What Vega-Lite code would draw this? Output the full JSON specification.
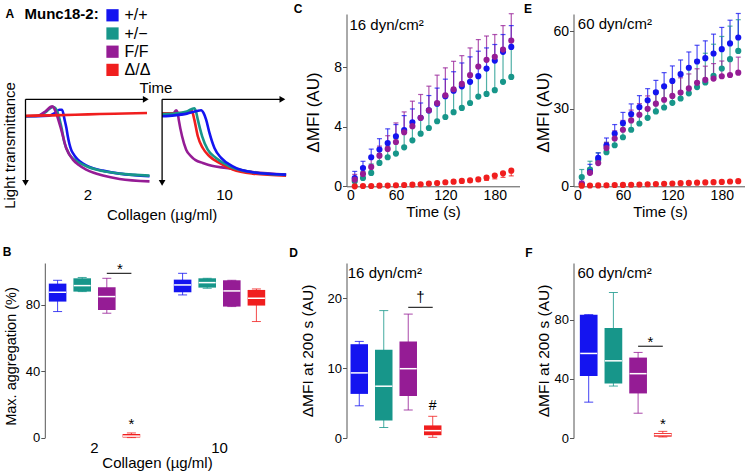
{
"$schema":"https://vega.github.io/schema/vega-lite/v6.json",
"background":"white",
"padding":{"left":2.5,"top":2,"right":0,"bottom":0},
"config":{
 "font":"Liberation Sans",
 "view":{"stroke":null},
 "axis":{"domainColor":"#555555","tickColor":"#555555","labelColor":"black","titleColor":"black","labelFontSize":13,"titleFontSize":15,"titleFontWeight":"normal","grid":false,"tickSize":4,"labelPadding":1,"minExtent":0,"labelFont":"Liberation Sans","titleFont":"Liberation Sans"},
 "title":{"fontSize":12,"fontWeight":"bold","anchor":"start","frame":"bounds","color":"black","font":"Liberation Sans"},
 "text":{"font":"Liberation Sans","color":"black"},
 "legend":{"labelFont":"Liberation Sans","titleFont":"Liberation Sans"}
},
"datasets":{
"A":[
{"c":"2","g":"+/+","t":0,"v":19.5},{"c":"2","g":"+/+","t":10,"v":19.5},{"c":"2","g":"+/+","t":19,"v":19},{"c":"2","g":"+/+","t":24,"v":15.5},{"c":"2","g":"+/+","t":27.4,"v":12},{"c":"2","g":"+/+","t":29.5,"v":12},{"c":"2","g":"+/+","t":31.5,"v":23.4},{"c":"2","g":"+/+","t":33,"v":33},{"c":"2","g":"+/+","t":34.1,"v":42.5},{"c":"2","g":"+/+","t":36.8,"v":57.9},{"c":"2","g":"+/+","t":38.5,"v":62.5},{"c":"2","g":"+/+","t":40.9,"v":67.4},{"c":"2","g":"+/+","t":44,"v":71.5},{"c":"2","g":"+/+","t":48.9,"v":75.9},{"c":"2","g":"+/+","t":55,"v":79.5},{"c":"2","g":"+/+","t":62.4,"v":82},{"c":"2","g":"+/+","t":75.8,"v":85.4},{"c":"2","g":"+/+","t":88,"v":87.2},{"c":"2","g":"+/+","t":100,"v":88.5},
{"c":"2","g":"+/−","t":0,"v":19.5},{"c":"2","g":"+/−","t":10,"v":19},{"c":"2","g":"+/−","t":16,"v":15},{"c":"2","g":"+/−","t":22,"v":8.8},{"c":"2","g":"+/−","t":24,"v":10},{"c":"2","g":"+/−","t":26,"v":15.7},{"c":"2","g":"+/−","t":28.8,"v":31},{"c":"2","g":"+/−","t":31.5,"v":50.2},{"c":"2","g":"+/−","t":35.5,"v":63.6},{"c":"2","g":"+/−","t":39,"v":69},{"c":"2","g":"+/−","t":43.5,"v":73.2},{"c":"2","g":"+/−","t":50,"v":77.5},{"c":"2","g":"+/−","t":57,"v":80.8},{"c":"2","g":"+/−","t":75.8,"v":85.4},{"c":"2","g":"+/−","t":100,"v":87.7},
{"c":"2","g":"F/F","t":0,"v":19.5},{"c":"2","g":"F/F","t":10,"v":19},{"c":"2","g":"F/F","t":16,"v":14},{"c":"2","g":"F/F","t":21.5,"v":8.1},{"c":"2","g":"F/F","t":23,"v":10},{"c":"2","g":"F/F","t":24.7,"v":15.7},{"c":"2","g":"F/F","t":28.8,"v":34.9},{"c":"2","g":"F/F","t":32.8,"v":56},{"c":"2","g":"F/F","t":38.2,"v":69.3},{"c":"2","g":"F/F","t":43,"v":75.5},{"c":"2","g":"F/F","t":48.9,"v":80.8},{"c":"2","g":"F/F","t":55,"v":84.5},{"c":"2","g":"F/F","t":62.4,"v":87.7},{"c":"2","g":"F/F","t":75.8,"v":91.6},{"c":"2","g":"F/F","t":100,"v":94.3},
{"c":"2","g":"Δ/Δ","t":0,"v":19},{"c":"2","g":"Δ/Δ","t":20,"v":18.5},{"c":"2","g":"Δ/Δ","t":40,"v":17.8},{"c":"2","g":"Δ/Δ","t":60,"v":17},{"c":"2","g":"Δ/Δ","t":80,"v":16.3},{"c":"2","g":"Δ/Δ","t":98,"v":15.7},
{"c":"10","g":"F/F","t":0,"v":19},{"c":"10","g":"F/F","t":5,"v":18.8},{"c":"10","g":"F/F","t":9,"v":17},{"c":"10","g":"F/F","t":11.3,"v":12.6},{"c":"10","g":"F/F","t":12.5,"v":15},{"c":"10","g":"F/F","t":13.4,"v":23.4},{"c":"10","g":"F/F","t":16.1,"v":42.5},{"c":"10","g":"F/F","t":19.4,"v":57.9},{"c":"10","g":"F/F","t":23.4,"v":65.5},{"c":"10","g":"F/F","t":27,"v":70},{"c":"10","g":"F/F","t":32.8,"v":73.2},{"c":"10","g":"F/F","t":40,"v":76.5},{"c":"10","g":"F/F","t":51.6,"v":78.9},{"c":"10","g":"F/F","t":73.1,"v":83.5},{"c":"10","g":"F/F","t":100,"v":86.6},
{"c":"10","g":"Δ/Δ","t":0,"v":16},{"c":"10","g":"Δ/Δ","t":10,"v":16},{"c":"10","g":"Δ/Δ","t":20,"v":15.5},{"c":"10","g":"Δ/Δ","t":23.4,"v":12.6},{"c":"10","g":"Δ/Δ","t":24.5,"v":15},{"c":"10","g":"Δ/Δ","t":26,"v":23.4},{"c":"10","g":"Δ/Δ","t":28.8,"v":42.5},{"c":"10","g":"Δ/Δ","t":32.8,"v":56},{"c":"10","g":"Δ/Δ","t":38.2,"v":65.5},{"c":"10","g":"Δ/Δ","t":46.2,"v":73.2},{"c":"10","g":"Δ/Δ","t":57,"v":80.8},{"c":"10","g":"Δ/Δ","t":73.1,"v":85.4},{"c":"10","g":"Δ/Δ","t":100,"v":87.7},
{"c":"10","g":"+/−","t":0,"v":17},{"c":"10","g":"+/−","t":10,"v":16.5},{"c":"10","g":"+/−","t":20,"v":14},{"c":"10","g":"+/−","t":26,"v":10.3},{"c":"10","g":"+/−","t":27.5,"v":15},{"c":"10","g":"+/−","t":28.8,"v":23.4},{"c":"10","g":"+/−","t":32.3,"v":42.5},{"c":"10","g":"+/−","t":36.8,"v":57.9},{"c":"10","g":"+/−","t":43.5,"v":67.4},{"c":"10","g":"+/−","t":54.3,"v":77},{"c":"10","g":"+/−","t":73.1,"v":83.9},{"c":"10","g":"+/−","t":100,"v":86.9},
{"c":"10","g":"+/+","t":0,"v":19.5},{"c":"10","g":"+/+","t":10,"v":18.5},{"c":"10","g":"+/+","t":20,"v":16.5},{"c":"10","g":"+/+","t":28,"v":13.5},{"c":"10","g":"+/+","t":31.5,"v":12.6},{"c":"10","g":"+/+","t":33.5,"v":16},{"c":"10","g":"+/+","t":35.5,"v":23.4},{"c":"10","g":"+/+","t":38.2,"v":38.7},{"c":"10","g":"+/+","t":42.2,"v":56},{"c":"10","g":"+/+","t":47.6,"v":67.4},{"c":"10","g":"+/+","t":57,"v":77},{"c":"10","g":"+/+","t":73.1,"v":83.9},{"c":"10","g":"+/+","t":100,"v":86.6}
],
"C":[
{"g":"+/−","t":10,"m":0.34,"e":0.6},{"g":"+/−","t":20,"m":0.56,"e":1.0},{"g":"+/−","t":30,"m":0.9,"e":1.5},{"g":"+/−","t":40,"m":1.57,"e":2.2},{"g":"+/−","t":50,"m":1.95,"e":2.7},{"g":"+/−","t":60,"m":2.2,"e":3.2},{"g":"+/−","t":70,"m":2.62,"e":3.7},{"g":"+/−","t":80,"m":3.09,"e":4.2},{"g":"+/−","t":90,"m":3.54,"e":4.6},{"g":"+/−","t":100,"m":3.92,"e":5.0},{"g":"+/−","t":110,"m":4.37,"e":5.5},{"g":"+/−","t":120,"m":4.66,"e":6.0},{"g":"+/−","t":130,"m":4.98,"e":6.4},{"g":"+/−","t":140,"m":5.27,"e":6.8},{"g":"+/−","t":150,"m":5.6,"e":7.1},{"g":"+/−","t":160,"m":6.03,"e":7.5},{"g":"+/−","t":170,"m":6.21,"e":7.9},{"g":"+/−","t":180,"m":6.46,"e":8.4},{"g":"+/−","t":190,"m":7.02,"e":9.0},{"g":"+/−","t":200,"m":7.35,"e":9.4},
{"g":"+/+","t":10,"m":0.56,"e":1.0},{"g":"+/+","t":20,"m":1.23,"e":1.68},{"g":"+/+","t":30,"m":1.95,"e":2.5},{"g":"+/+","t":40,"m":2.47,"e":3.2},{"g":"+/+","t":50,"m":2.91,"e":3.86},{"g":"+/+","t":60,"m":3.36,"e":4.15},{"g":"+/+","t":70,"m":3.77,"e":4.75},{"g":"+/+","t":80,"m":4.3,"e":5.2},{"g":"+/+","t":90,"m":4.6,"e":5.6},{"g":"+/+","t":100,"m":5.1,"e":6.1},{"g":"+/+","t":110,"m":5.55,"e":6.6},{"g":"+/+","t":120,"m":6.05,"e":7.2},{"g":"+/+","t":130,"m":6.43,"e":7.7},{"g":"+/+","t":140,"m":6.72,"e":8.29},{"g":"+/+","t":150,"m":7.02,"e":8.7},{"g":"+/+","t":160,"m":7.4,"e":9.08},{"g":"+/+","t":170,"m":7.91,"e":9.3},{"g":"+/+","t":180,"m":8.45,"e":9.53},{"g":"+/+","t":190,"m":9.04,"e":10.2},{"g":"+/+","t":200,"m":9.37,"e":10.8},
{"g":"F/F","t":10,"m":0.45,"e":0.8},{"g":"F/F","t":20,"m":0.83,"e":1.3},{"g":"F/F","t":30,"m":1.3,"e":1.9},{"g":"F/F","t":40,"m":2.06,"e":2.7},{"g":"F/F","t":50,"m":2.51,"e":3.4},{"g":"F/F","t":60,"m":2.98,"e":4.26},{"g":"F/F","t":70,"m":3.63,"e":5.0},{"g":"F/F","t":80,"m":4.04,"e":5.72},{"g":"F/F","t":90,"m":4.6,"e":6.17},{"g":"F/F","t":100,"m":5.11,"e":6.73},{"g":"F/F","t":110,"m":5.6,"e":7.47},{"g":"F/F","t":120,"m":6.12,"e":7.96},{"g":"F/F","t":130,"m":6.52,"e":8.4},{"g":"F/F","t":140,"m":6.88,"e":8.78},{"g":"F/F","t":150,"m":7.47,"e":9.3},{"g":"F/F","t":160,"m":8.05,"e":9.86},{"g":"F/F","t":170,"m":8.5,"e":10.1},{"g":"F/F","t":180,"m":8.7,"e":10.2},{"g":"F/F","t":190,"m":9.19,"e":10.8},{"g":"F/F","t":200,"m":9.8,"e":11.6},
{"g":"Δ/Δ","t":10,"m":0.0,"e":0.0},{"g":"Δ/Δ","t":20,"m":0.02,"e":0.0},{"g":"Δ/Δ","t":30,"m":0.02,"e":0.0},{"g":"Δ/Δ","t":40,"m":0.04,"e":0.02},{"g":"Δ/Δ","t":50,"m":0.05,"e":0.02},{"g":"Δ/Δ","t":60,"m":0.07,"e":0.04},{"g":"Δ/Δ","t":70,"m":0.09,"e":0.05},{"g":"Δ/Δ","t":80,"m":0.11,"e":0.06},{"g":"Δ/Δ","t":90,"m":0.14,"e":0.08},{"g":"Δ/Δ","t":100,"m":0.18,"e":0.11},{"g":"Δ/Δ","t":110,"m":0.22,"e":0.14},{"g":"Δ/Δ","t":120,"m":0.27,"e":0.17},{"g":"Δ/Δ","t":130,"m":0.31,"e":0.2},{"g":"Δ/Δ","t":140,"m":0.36,"e":0.24},{"g":"Δ/Δ","t":150,"m":0.4,"e":0.27},{"g":"Δ/Δ","t":160,"m":0.47,"e":0.32},{"g":"Δ/Δ","t":170,"m":0.58,"e":0.4},{"g":"Δ/Δ","t":180,"m":0.72,"e":0.5},{"g":"Δ/Δ","t":190,"m":0.87,"e":0.6},{"g":"Δ/Δ","t":200,"m":1.05,"e":0.7}
],
"E":[
{"g":"+/−","t":10,"m":3.6,"e":6.5},{"g":"+/−","t":20,"m":6.5,"e":9.7},{"g":"+/−","t":30,"m":10.3,"e":13},{"g":"+/−","t":40,"m":13.2,"e":17},{"g":"+/−","t":50,"m":15.9,"e":20},{"g":"+/−","t":60,"m":19,"e":23.5},{"g":"+/−","t":70,"m":21.9,"e":27},{"g":"+/−","t":80,"m":24.3,"e":30},{"g":"+/−","t":90,"m":26.5,"e":33},{"g":"+/−","t":100,"m":29,"e":36},{"g":"+/−","t":110,"m":30.5,"e":38},{"g":"+/−","t":120,"m":32.3,"e":40.5},{"g":"+/−","t":130,"m":34,"e":43},{"g":"+/−","t":140,"m":36,"e":46},{"g":"+/−","t":150,"m":38.4,"e":49},{"g":"+/−","t":160,"m":40.2,"e":51.5},{"g":"+/−","t":170,"m":42.8,"e":55},{"g":"+/−","t":180,"m":45.6,"e":58},{"g":"+/−","t":190,"m":49.2,"e":62},{"g":"+/−","t":200,"m":52.4,"e":64.5},
{"g":"+/+","t":10,"m":1.0,"e":3},{"g":"+/+","t":20,"m":5.5,"e":8.5},{"g":"+/+","t":30,"m":11,"e":12.9},{"g":"+/+","t":40,"m":15.9,"e":18.7},{"g":"+/+","t":50,"m":20.4,"e":23.9},{"g":"+/+","t":60,"m":24.5,"e":28.6},{"g":"+/+","t":70,"m":28,"e":31.9},{"g":"+/+","t":80,"m":30.7,"e":35.1},{"g":"+/+","t":90,"m":33.3,"e":37.8},{"g":"+/+","t":100,"m":36.4,"e":41},{"g":"+/+","t":110,"m":38.7,"e":44},{"g":"+/+","t":120,"m":40.8,"e":46.6},{"g":"+/+","t":130,"m":43.4,"e":48.9},{"g":"+/+","t":140,"m":45.9,"e":52},{"g":"+/+","t":150,"m":48.3,"e":54.6},{"g":"+/+","t":160,"m":49.6,"e":56.3},{"g":"+/+","t":170,"m":51.4,"e":58.9},{"g":"+/+","t":180,"m":53.1,"e":61.5},{"g":"+/+","t":190,"m":55.3,"e":64.3},{"g":"+/+","t":200,"m":57.6,"e":66.9},
{"g":"F/F","t":10,"m":1.0,"e":2},{"g":"F/F","t":20,"m":5.2,"e":7},{"g":"F/F","t":30,"m":9.0,"e":11},{"g":"F/F","t":40,"m":14.8,"e":17},{"g":"F/F","t":50,"m":18.5,"e":21.5},{"g":"F/F","t":60,"m":21.9,"e":25.5},{"g":"F/F","t":70,"m":25.5,"e":29.5},{"g":"F/F","t":80,"m":27.7,"e":32},{"g":"F/F","t":90,"m":30,"e":35},{"g":"F/F","t":100,"m":32,"e":37},{"g":"F/F","t":110,"m":33.5,"e":39},{"g":"F/F","t":120,"m":35,"e":40.5},{"g":"F/F","t":130,"m":36.3,"e":42},{"g":"F/F","t":140,"m":37.9,"e":43.5},{"g":"F/F","t":150,"m":40.1,"e":45.5},{"g":"F/F","t":160,"m":41.2,"e":46.5},{"g":"F/F","t":170,"m":41.7,"e":47.5},{"g":"F/F","t":180,"m":42.6,"e":48.5},{"g":"F/F","t":190,"m":43.1,"e":49.5},{"g":"F/F","t":200,"m":44,"e":50},
{"g":"Δ/Δ","t":10,"m":0.25,"e":0.2},{"g":"Δ/Δ","t":20,"m":0.3,"e":0.25},{"g":"Δ/Δ","t":30,"m":0.35,"e":0.3},{"g":"Δ/Δ","t":40,"m":0.4,"e":0.3},{"g":"Δ/Δ","t":50,"m":0.5,"e":0.4},{"g":"Δ/Δ","t":60,"m":0.55,"e":0.45},{"g":"Δ/Δ","t":70,"m":0.6,"e":0.5},{"g":"Δ/Δ","t":80,"m":0.7,"e":0.55},{"g":"Δ/Δ","t":90,"m":0.8,"e":0.6},{"g":"Δ/Δ","t":100,"m":0.9,"e":0.7},{"g":"Δ/Δ","t":110,"m":1.0,"e":0.8},{"g":"Δ/Δ","t":120,"m":1.1,"e":0.85},{"g":"Δ/Δ","t":130,"m":1.2,"e":0.95},{"g":"Δ/Δ","t":140,"m":1.3,"e":1.0},{"g":"Δ/Δ","t":150,"m":1.4,"e":1.1},{"g":"Δ/Δ","t":160,"m":1.5,"e":1.2},{"g":"Δ/Δ","t":170,"m":1.6,"e":1.25},{"g":"Δ/Δ","t":180,"m":1.7,"e":1.3},{"g":"Δ/Δ","t":190,"m":1.85,"e":1.4},{"g":"Δ/Δ","t":200,"m":2.0,"e":1.5}
],
"B":[
{"c":"2","g":"+/+","min":75.8,"q1":81.8,"med":87.4,"q3":92.6,"max":94.6},
{"c":"2","g":"+/−","min":87.8,"q1":87.8,"med":91.4,"q3":95.8,"max":96.3},
{"c":"2","g":"F/F","min":74.8,"q1":76.8,"med":84.8,"q3":90.4,"max":95.8},
{"c":"2","g":"Δ/Δ","min":0,"q1":0,"med":0.9,"q3":2.2,"max":2.8},
{"c":"10","g":"+/+","min":85.8,"q1":87.4,"med":91.8,"q3":95,"max":98.8},
{"c":"10","g":"+/−","min":89.8,"q1":90.2,"med":93.2,"q3":95.8,"max":95.8},
{"c":"10","g":"F/F","min":78.8,"q1":78.8,"med":88.2,"q3":94.6,"max":94.6},
{"c":"10","g":"Δ/Δ","min":69.8,"q1":79.4,"med":83.8,"q3":88.8,"max":89.4}
],
"D":[
{"g":"+/+","min":4.6,"q1":6.3,"med":9.3,"q3":13.4,"max":13.8},
{"g":"+/−","min":1.5,"q1":2.5,"med":7.4,"q3":12.6,"max":18.2},
{"g":"F/F","min":4.0,"q1":6.0,"med":9.9,"q3":13.8,"max":17.7},
{"g":"Δ/Δ","min":0.1,"q1":0.4,"med":1.05,"q3":1.8,"max":3.1}
],
"F":[
{"g":"+/+","min":24.3,"q1":42,"med":57.3,"q3":83.6,"max":83.6},
{"g":"+/−","min":35.2,"q1":37,"med":52.3,"q3":74.5,"max":98.6},
{"g":"F/F","min":16.8,"q1":30.2,"med":43.6,"q3":54.5,"max":58},
{"g":"Δ/Δ","min":0.7,"q1":0.9,"med":2.3,"q3":3.4,"max":4.5}
]
},
"columns":3,
"align":"each",
"spacing":{"row":21,"column":-3},
"resolve":{"scale":{"color":"independent"}},
"concat":[
{
 "hconcat":[
  {
   "width":124,"height":172.3,
   "layer":[
    {"data":{"name":"A"},"transform":[{"filter":"datum.c == '2'"}],
     "mark":{"type":"line","strokeWidth":2.6,"interpolate":"monotone"},
     "encoding":{
      "x":{"field":"t","type":"quantitative","title":"2","scale":{"domain":[0,100],"nice":false,"zero":false},"axis":{"orient":"bottom","domain":false,"ticks":false,"labels":false,"titleFontSize":15,"titlePadding":1}},
      "y":{"field":"v","type":"quantitative","title":"Light transmittance","scale":{"domain":[-98,100],"reverse":true,"nice":false,"zero":false},"axis":{"domain":false,"ticks":false,"labels":false,"titleFontSize":15,"titlePadding":7.7,"titleY":131}},
      "color":{"field":"g","type":"nominal","scale":{"domain":["+/+","+/−","F/F","Δ/Δ"],"range":["#1414F0","#17968A","#951C95","#F01E1E"]},
        "legend":{"orient":"none","legendX":-1,"legendY":-6.7,"title":"Munc18-2:","titleOrient":"left","titleAnchor":"start","titleBaseline":"top","titleFontSize":15,"titleFontWeight":"bold","titleColor":"black","titlePadding":5,"labelFontSize":16,"labelColor":"black","symbolType":"square","symbolSize":150,"symbolStrokeWidth":0,"symbolOpacity":1,"rowPadding":2.2,"labelOffset":4,
          "encode":{"symbols":{"update":{"fill":{"signal":"datum.value === '+/+' ? '#1414F0' : datum.value === '+/−' ? '#17968A' : datum.value === 'F/F' ? '#951C95' : '#F01E1E'"},"fillOpacity":{"value":1},"strokeWidth":{"value":0}}}}}}
     }},
    {"data":{"values":[{"t":0,"t2":98,"v":0,"v2":0},{"t":0,"t2":0,"v":0,"v2":97}]},
     "mark":{"type":"rule","color":"black","strokeWidth":1.3},
     "encoding":{"x":{"field":"t","type":"quantitative","title":"2"},"x2":{"field":"t2"},"y":{"field":"v","type":"quantitative","title":"Light transmittance"},"y2":{"field":"v2"}}},
    {"data":{"values":[{"t":97,"v":0,"s":"triangle-right"},{"t":0,"v":96,"s":"triangle-down"}]},
     "mark":{"type":"point","filled":true,"color":"black","size":45,"opacity":1},
     "encoding":{"x":{"field":"t","type":"quantitative","title":"2"},"y":{"field":"v","type":"quantitative","title":"Light transmittance"},"shape":{"field":"s","type":"nominal","scale":null}}},
    {"data":{"values":[{"t":92,"v":-13,"s":"Time"}]},
     "mark":{"type":"text","align":"left","baseline":"middle","fontSize":15},
     "encoding":{"x":{"field":"t","type":"quantitative","title":"2"},"y":{"field":"v","type":"quantitative","title":"Light transmittance"},"text":{"field":"s"}}},
    {"data":{"values":[{"t":-16.1,"v":-93.4,"s":"A"}]},
     "mark":{"type":"text","align":"left","baseline":"alphabetic","fontSize":12,"fontWeight":"bold"},
     "encoding":{"x":{"field":"t","type":"quantitative","title":"2"},"y":{"field":"v","type":"quantitative","title":"Light transmittance"},"text":{"field":"s"}}}
   ]
  },
  {
   "width":124,"height":172.3,
   "layer":[
    {"data":{"name":"A"},"transform":[{"filter":"datum.c == '10'"}],
     "mark":{"type":"line","strokeWidth":2.6,"interpolate":"monotone"},
     "encoding":{
      "x":{"field":"t","type":"quantitative","title":"10","scale":{"domain":[0,100],"nice":false,"zero":false},"axis":{"orient":"bottom","domain":false,"ticks":false,"labels":false,"titleFontSize":15,"titlePadding":1}},
      "y":{"field":"v","type":"quantitative","scale":{"domain":[-98,100],"reverse":true,"nice":false,"zero":false},"axis":null},
      "color":{"field":"g","type":"nominal","scale":{"domain":["+/+","+/−","F/F","Δ/Δ"],"range":["#1414F0","#17968A","#951C95","#F01E1E"]},"legend":null}
     }},
    {"data":{"values":[{"t":0,"t2":98,"v":0,"v2":0},{"t":0,"t2":0,"v":0,"v2":97}]},
     "mark":{"type":"rule","color":"black","strokeWidth":1.3},
     "encoding":{"x":{"field":"t","type":"quantitative","title":"10"},"x2":{"field":"t2"},"y":{"field":"v","type":"quantitative"},"y2":{"field":"v2"}}},
    {"data":{"values":[{"t":97,"v":0,"s":"triangle-right"},{"t":0,"v":96,"s":"triangle-down"}]},
     "mark":{"type":"point","filled":true,"color":"black","size":45,"opacity":1},
     "encoding":{"x":{"field":"t","type":"quantitative","title":"10"},"y":{"field":"v","type":"quantitative"},"shape":{"field":"s","type":"nominal","scale":null}}}
   ]
  }
 ],
 "spacing":12.6,
 "bounds":"flush",
 "resolve":{"scale":{"color":"independent"}},
 "title":{"text":"Collagen (µg/ml)","orient":"bottom","anchor":"middle","frame":"bounds","dx":15,"fontSize":15,"fontWeight":"normal","offset":0}
},
{
 "width":173,"height":172.3,
 "title":{"text":"C","dx":-11,"offset":-3},
 "data":{"name":"C"},
 "encoding":{"x":{"field":"t","type":"quantitative","title":"Time (s)","scale":{"domain":[0,210],"nice":false},"axis":{"values":[0,60,120,180],"ticks":false,"labelPadding":2,"titlePadding":2,"labelFontSize":14}}},
 "layer":[
  {"mark":{"type":"rule","strokeWidth":1.2,"opacity":0.75},
   "encoding":{"y":{"field":"m","type":"quantitative","title":"ΔMFI (AU)","scale":{"domain":[0,11.58],"nice":false},"axis":{"values":[0,4,8],"labelFontSize":14,"titleFontSize":17,"titlePadding":11,"titleY":98}},"y2":{"field":"e"},
    "color":{"field":"g","type":"nominal","scale":{"domain":["+/+","+/−","F/F","Δ/Δ"],"range":["#1414F0","#17968A","#951C95","#F01E1E"]},"legend":null}}},
  {"mark":{"type":"tick","orient":"horizontal","size":5,"thickness":1.2,"opacity":0.75},
   "encoding":{"y":{"field":"e","type":"quantitative","title":"ΔMFI (AU)"},
    "color":{"field":"g","type":"nominal","scale":{"domain":["+/+","+/−","F/F","Δ/Δ"],"range":["#1414F0","#17968A","#951C95","#F01E1E"]},"legend":null}}},
  {"mark":{"type":"point","filled":true,"size":38,"opacity":1},
   "encoding":{"y":{"field":"m","type":"quantitative","title":"ΔMFI (AU)"},
    "color":{"field":"g","type":"nominal","scale":{"domain":["+/+","+/−","F/F","Δ/Δ"],"range":["#1414F0","#17968A","#951C95","#F01E1E"]},"legend":null}}},
  {"data":{"values":[{"t":3.6,"m":10.53,"s":"16 dyn/cm²"}]},
   "mark":{"type":"text","align":"left","baseline":"alphabetic","fontSize":15},
   "encoding":{"y":{"field":"m","type":"quantitative","title":"ΔMFI (AU)"},"text":{"field":"s"}}}
 ]
},
{
 "width":173,"height":172.3,
 "title":{"text":"E","dx":-11,"offset":-3},
 "data":{"name":"E"},
 "encoding":{"x":{"field":"t","type":"quantitative","title":"Time (s)","scale":{"domain":[0,210],"nice":false},"axis":{"values":[0,60,120,180],"ticks":false,"labelPadding":2,"titlePadding":2,"labelFontSize":14}}},
 "layer":[
  {"mark":{"type":"rule","strokeWidth":1.2,"opacity":0.75},
   "encoding":{"y":{"field":"m","type":"quantitative","title":"ΔMFI (AU)","scale":{"domain":[0,66.7],"nice":false},"axis":{"values":[0,30,60],"labelFontSize":14,"titleFontSize":17,"titlePadding":0,"titleY":98}},"y2":{"field":"e"},
    "color":{"field":"g","type":"nominal","scale":{"domain":["+/+","+/−","F/F","Δ/Δ"],"range":["#1414F0","#17968A","#951C95","#F01E1E"]},"legend":null}}},
  {"mark":{"type":"tick","orient":"horizontal","size":5,"thickness":1.2,"opacity":0.75},
   "encoding":{"y":{"field":"e","type":"quantitative","title":"ΔMFI (AU)"},
    "color":{"field":"g","type":"nominal","scale":{"domain":["+/+","+/−","F/F","Δ/Δ"],"range":["#1414F0","#17968A","#951C95","#F01E1E"]},"legend":null}}},
  {"mark":{"type":"point","filled":true,"size":38,"opacity":1},
   "encoding":{"y":{"field":"m","type":"quantitative","title":"ΔMFI (AU)"},
    "color":{"field":"g","type":"nominal","scale":{"domain":["+/+","+/−","F/F","Δ/Δ"],"range":["#1414F0","#17968A","#951C95","#F01E1E"]},"legend":null}}},
  {"data":{"values":[{"t":5.2,"m":60.7,"s":"60 dyn/cm²"}]},
   "mark":{"type":"text","align":"left","baseline":"alphabetic","fontSize":15},
   "encoding":{"y":{"field":"m","type":"quantitative","title":"ΔMFI (AU)"},"text":{"field":"s"}}}
 ]
},
{
 "width":263,"height":174.6,
 "title":{"text":"B","dx":-1,"offset":3},
 "data":{"name":"B"},
 "encoding":{
  "x":{"field":"c","type":"nominal","title":"Collagen (µg/ml)","sort":["2","10"],"scale":{"domain":["2","10"],"paddingInner":0.2,"paddingOuter":0.152},"axis":{"domain":false,"ticks":false,"labelAngle":0,"labelPadding":3,"labelFontSize":15,"titlePadding":0}},
  "xOffset":{"field":"g","type":"nominal","scale":{"domain":["+/+","+/−","F/F","Δ/Δ"],"paddingInner":0.285,"paddingOuter":0.175}}
 },
 "layer":[
  {"mark":{"type":"rule","strokeWidth":1,"opacity":0.8},
   "encoding":{"y":{"field":"min","type":"quantitative","title":"Max. aggregation (%)","scale":{"domain":[0,105],"nice":false},"axis":{"values":[0,40,80],"offset":-19.3,"titleFontSize":14.5,"titlePadding":6.5,"titleY":93}},"y2":{"field":"max"},
    "color":{"field":"g","type":"nominal","scale":{"domain":["+/+","+/−","F/F","Δ/Δ"],"range":["#1414F0","#17968A","#951C95","#F01E1E"]},"legend":null}}},
  {"mark":{"type":"tick","size":9,"thickness":1,"opacity":0.8},
   "encoding":{"y":{"field":"min","type":"quantitative","title":"Max. aggregation (%)"},
    "color":{"field":"g","type":"nominal","scale":{"domain":["+/+","+/−","F/F","Δ/Δ"],"range":["#1414F0","#17968A","#951C95","#F01E1E"]},"legend":null}}},
  {"mark":{"type":"tick","size":9,"thickness":1,"opacity":0.8},
   "encoding":{"y":{"field":"max","type":"quantitative","title":"Max. aggregation (%)"},
    "color":{"field":"g","type":"nominal","scale":{"domain":["+/+","+/−","F/F","Δ/Δ"],"range":["#1414F0","#17968A","#951C95","#F01E1E"]},"legend":null}}},
  {"mark":{"type":"bar"},
   "encoding":{"y":{"field":"q1","type":"quantitative","title":"Max. aggregation (%)"},"y2":{"field":"q3"},
    "color":{"field":"g","type":"nominal","scale":{"domain":["+/+","+/−","F/F","Δ/Δ"],"range":["#1414F0","#17968A","#951C95","#F01E1E"]},"legend":null}}},
  {"mark":{"type":"tick","color":"white","size":17,"thickness":1.5,"opacity":1},
   "encoding":{"y":{"field":"med","type":"quantitative","title":"Max. aggregation (%)"}}},
  {"data":{"values":[{"c":"2","g":"F/F","min":98.8},{"c":"2","g":"Δ/Δ","min":98.8}]},
   "mark":{"type":"line","color":"black","strokeWidth":1},
   "encoding":{"y":{"field":"min","type":"quantitative","title":"Max. aggregation (%)"}}},
  {"data":{"values":[{"c":"2","g":"F/F","min":98.5,"s":"*"}]},
   "mark":{"type":"text","dx":13,"fontSize":15,"baseline":"alphabetic","align":"center"},
   "encoding":{"y":{"field":"min","type":"quantitative","title":"Max. aggregation (%)"},"text":{"field":"s"}}},
  {"data":{"values":[{"c":"2","g":"Δ/Δ","min":5.3,"s":"*"}]},
   "mark":{"type":"text","fontSize":15,"baseline":"alphabetic","align":"center"},
   "encoding":{"y":{"field":"min","type":"quantitative","title":"Max. aggregation (%)"},"text":{"field":"s"}}}
 ]
},
{
 "width":180,"height":175,
 "title":{"text":"D","dx":-11,"offset":3},
 "data":{"name":"D"},
 "encoding":{"x":{"field":"g","type":"nominal","sort":["+/+","+/−","F/F","Δ/Δ"],"scale":{"domain":["+/+","+/−","F/F","Δ/Δ"],"range":[0,99],"paddingInner":0.286,"paddingOuter":0.165},"axis":{"labels":false,"ticks":false,"domain":false,"title":null}}},
 "layer":[
  {"mark":{"type":"rule","strokeWidth":1,"opacity":0.8},
   "encoding":{"y":{"field":"min","type":"quantitative","title":"ΔMFI at 200 s (AU)","scale":{"domain":[0,25],"nice":false},"axis":{"values":[0,10,20],"titleFontSize":15.5,"titlePadding":11.9,"titleY":87.5}},"y2":{"field":"max"},
    "color":{"field":"g","type":"nominal","scale":{"domain":["+/+","+/−","F/F","Δ/Δ"],"range":["#1414F0","#17968A","#951C95","#F01E1E"]},"legend":null}}},
  {"mark":{"type":"tick","size":9,"thickness":1,"opacity":0.8},
   "encoding":{"y":{"field":"min","type":"quantitative","title":"ΔMFI at 200 s (AU)"},
    "color":{"field":"g","type":"nominal","scale":{"domain":["+/+","+/−","F/F","Δ/Δ"],"range":["#1414F0","#17968A","#951C95","#F01E1E"]},"legend":null}}},
  {"mark":{"type":"tick","size":9,"thickness":1,"opacity":0.8},
   "encoding":{"y":{"field":"max","type":"quantitative","title":"ΔMFI at 200 s (AU)"},
    "color":{"field":"g","type":"nominal","scale":{"domain":["+/+","+/−","F/F","Δ/Δ"],"range":["#1414F0","#17968A","#951C95","#F01E1E"]},"legend":null}}},
  {"mark":{"type":"bar","width":17.5},
   "encoding":{"y":{"field":"q1","type":"quantitative","title":"ΔMFI at 200 s (AU)"},"y2":{"field":"q3"},
    "color":{"field":"g","type":"nominal","scale":{"domain":["+/+","+/−","F/F","Δ/Δ"],"range":["#1414F0","#17968A","#951C95","#F01E1E"]},"legend":null}}},
  {"mark":{"type":"tick","color":"white","size":17,"thickness":1.5,"opacity":1},
   "encoding":{"y":{"field":"med","type":"quantitative","title":"ΔMFI at 200 s (AU)"}}},
  {"data":{"values":[{"g":"F/F","min":18.67},{"g":"Δ/Δ","min":18.67}]},
   "mark":{"type":"line","color":"black","strokeWidth":1},
   "encoding":{"y":{"field":"min","type":"quantitative","title":"ΔMFI at 200 s (AU)"}}},
  {"data":{"values":[{"g":"F/F","min":19.5,"s":"†"}]},
   "mark":{"type":"text","dx":12.3,"fontSize":15,"baseline":"alphabetic","align":"center"},
   "encoding":{"y":{"field":"min","type":"quantitative","title":"ΔMFI at 200 s (AU)"},"text":{"field":"s"}}},
  {"data":{"values":[{"g":"Δ/Δ","min":4.06,"s":"#"}]},
   "mark":{"type":"text","fontSize":14,"baseline":"alphabetic","align":"center"},
   "encoding":{"y":{"field":"min","type":"quantitative","title":"ΔMFI at 200 s (AU)"},"text":{"field":"s"}}},
  {"data":{"values":[{"g":"+/+","min":22.9,"s":"16 dyn/cm²"}]},
   "mark":{"type":"text","dx":-11.5,"fontSize":15,"baseline":"alphabetic","align":"left"},
   "encoding":{"y":{"field":"min","type":"quantitative","title":"ΔMFI at 200 s (AU)"},"text":{"field":"s"}}}
 ]
},
{
 "width":104.5,"height":175,
 "title":{"text":"F","dx":-11,"offset":3},
 "data":{"name":"F"},
 "encoding":{"x":{"field":"g","type":"nominal","sort":["+/+","+/−","F/F","Δ/Δ"],"scale":{"domain":["+/+","+/−","F/F","Δ/Δ"],"paddingInner":0.283,"paddingOuter":0.257},"axis":{"labels":false,"ticks":false,"domain":false,"title":null}}},
 "layer":[
  {"mark":{"type":"rule","strokeWidth":1,"opacity":0.8},
   "encoding":{"y":{"field":"min","type":"quantitative","title":"ΔMFI at 200 s (AU)","scale":{"domain":[0,118.6],"nice":false},"axis":{"values":[0,40,80],"titleFontSize":15.5,"titlePadding":2.8,"titleY":87.5}},"y2":{"field":"max"},
    "color":{"field":"g","type":"nominal","scale":{"domain":["+/+","+/−","F/F","Δ/Δ"],"range":["#1414F0","#17968A","#951C95","#F01E1E"]},"legend":null}}},
  {"mark":{"type":"tick","size":9,"thickness":1,"opacity":0.8},
   "encoding":{"y":{"field":"min","type":"quantitative","title":"ΔMFI at 200 s (AU)"},
    "color":{"field":"g","type":"nominal","scale":{"domain":["+/+","+/−","F/F","Δ/Δ"],"range":["#1414F0","#17968A","#951C95","#F01E1E"]},"legend":null}}},
  {"mark":{"type":"tick","size":9,"thickness":1,"opacity":0.8},
   "encoding":{"y":{"field":"max","type":"quantitative","title":"ΔMFI at 200 s (AU)"},
    "color":{"field":"g","type":"nominal","scale":{"domain":["+/+","+/−","F/F","Δ/Δ"],"range":["#1414F0","#17968A","#951C95","#F01E1E"]},"legend":null}}},
  {"mark":{"type":"bar"},
   "encoding":{"y":{"field":"q1","type":"quantitative","title":"ΔMFI at 200 s (AU)"},"y2":{"field":"q3"},
    "color":{"field":"g","type":"nominal","scale":{"domain":["+/+","+/−","F/F","Δ/Δ"],"range":["#1414F0","#17968A","#951C95","#F01E1E"]},"legend":null}}},
  {"mark":{"type":"tick","color":"white","size":17,"thickness":1.5,"opacity":1},
   "encoding":{"y":{"field":"med","type":"quantitative","title":"ΔMFI at 200 s (AU)"}}},
  {"data":{"values":[{"g":"F/F","min":62.2},{"g":"Δ/Δ","min":62.2}]},
   "mark":{"type":"line","color":"black","strokeWidth":1},
   "encoding":{"y":{"field":"min","type":"quantitative","title":"ΔMFI at 200 s (AU)"}}},
  {"data":{"values":[{"g":"F/F","min":61.5,"s":"*"}]},
   "mark":{"type":"text","dx":12.3,"fontSize":15,"baseline":"alphabetic","align":"center"},
   "encoding":{"y":{"field":"min","type":"quantitative","title":"ΔMFI at 200 s (AU)"},"text":{"field":"s"}}},
  {"data":{"values":[{"g":"Δ/Δ","min":5.9,"s":"*"}]},
   "mark":{"type":"text","fontSize":15,"baseline":"alphabetic","align":"center"},
   "encoding":{"y":{"field":"min","type":"quantitative","title":"ΔMFI at 200 s (AU)"},"text":{"field":"s"}}},
  {"data":{"values":[{"g":"+/+","min":108.5,"s":"60 dyn/cm²"}]},
   "mark":{"type":"text","dx":-11.2,"fontSize":15,"baseline":"alphabetic","align":"left"},
   "encoding":{"y":{"field":"min","type":"quantitative","title":"ΔMFI at 200 s (AU)"},"text":{"field":"s"}}}
 ]
}
]
}
